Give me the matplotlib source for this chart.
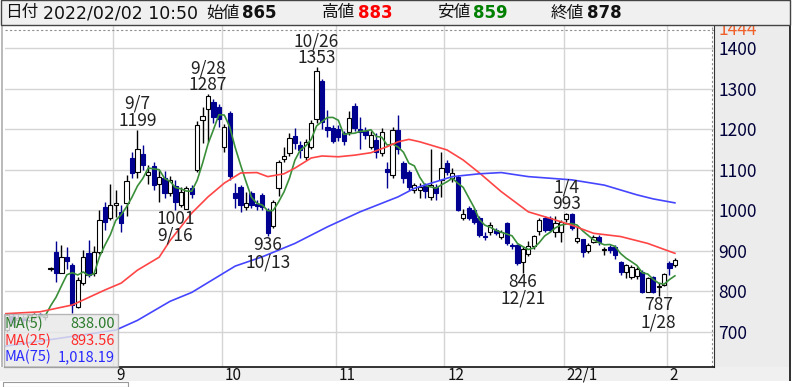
import matplotlib
matplotlib.use('Agg')
import matplotlib.pyplot as plt
from matplotlib.patches import Rectangle
import numpy as np
import pandas as pd

plt.rcParams['font.family'] = ['Noto Sans CJK JP', 'DejaVu Sans']

# ---------------- data ----------------
aug_days = [2, 3, 4, 5, 6, 10, 11, 12, 13, 16, 17, 18, 19, 20, 23, 24, 25, 26, 27, 30, 31]
sep_days = [1, 2, 3, 6, 7, 8, 9, 10, 13, 14, 15, 16, 17, 21, 22, 24, 27, 28, 29, 30]
oct_days = [1, 4, 5, 6, 7, 8, 11, 12, 13, 14, 15, 18, 19, 20, 21, 22, 25, 26, 27, 28, 29]
nov_days = [1, 2, 4, 5, 8, 9, 10, 11, 12, 15, 16, 17, 18, 19, 22, 24, 25, 26, 29, 30]
dec_days = [1, 2, 3, 6, 7, 8, 9, 10, 13, 14, 15, 16, 17, 20, 21, 22, 23, 24, 27, 28, 29, 30]
jan_days = [4, 5, 6, 7, 11, 12, 13, 14, 17, 18, 19, 20, 21, 24, 25, 26, 27, 28, 31]
feb_days = [1, 2]
dates = ([f'2021-08-{d:02d}' for d in aug_days] + [f'2021-09-{d:02d}' for d in sep_days] +
         [f'2021-10-{d:02d}' for d in oct_days] + [f'2021-11-{d:02d}' for d in nov_days] +
         [f'2021-12-{d:02d}' for d in dec_days] + [f'2022-01-{d:02d}' for d in jan_days] +
         [f'2022-02-{d:02d}' for d in feb_days])

opens = [735, 705, 738, 728, 735, 730, 736, 744, 736,
         855, 898, 846, 885, 865, 762, 820, 895, 845, 898, 1007, 982,
         1013, 996, 1017, 1130, 1095, 1138, 1088, 1110, 1065, 1080, 1042, 1060, 1012, 1004, 1055, 1100, 1222, 1250, 1268, 1255,
         1155, 1240, 1042, 1058, 1009, 1042, 1016, 1037, 1000, 962, 1054, 1126, 1141, 1183, 1160, 1132, 1155, 1225, 1320, 1205, 1202,
         1200, 1190, 1194, 1258, 1200, 1195, 1157, 1173, 1141, 1102, 1087, 1198, 1116, 1095, 1050, 1050, 1060, 1033, 1058, 1075,
         1116, 1079, 1083, 980, 1005, 1000, 980, 936, 947, 951, 935, 969, 914, 914, 873, 893, 912, 948, 982, 980, 947, 945,
         978, 990, 925, 928, 900, 922, 935, 901, 910, 910, 873, 848, 836, 837, 848, 799, 836, 810, 815,
         869, 865]
highs = [748, 746, 744, 742, 740, 744, 746, 746, 744,
         860, 925, 914, 910, 870, 836, 902, 926, 912, 1000, 1020, 1066,
         1050, 1013, 1087, 1145, 1199, 1160, 1112, 1120, 1100, 1098, 1085, 1075, 1058, 1060, 1062, 1220, 1256, 1287, 1275, 1262,
         1212, 1245, 1068, 1062, 1045, 1048, 1025, 1042, 1005, 1025, 1125, 1155, 1190, 1203, 1170, 1175, 1222, 1353, 1325, 1248, 1210,
         1210, 1195, 1245, 1266, 1230, 1205, 1195, 1190, 1202, 1120, 1205, 1235, 1122, 1100, 1068, 1068, 1068, 1150, 1065, 1144,
         1124, 1105, 1088, 1004, 1010, 1005, 985, 945, 970, 955, 950, 972, 918, 916, 908, 925, 940, 980, 985, 985, 986, 975,
         993, 992, 959, 930, 920, 940, 938, 910, 915, 915, 875, 868, 865, 860, 852, 835, 838, 820, 846,
         875, 883]
lows = [728, 700, 715, 720, 722, 725, 730, 730, 728,
        850, 823, 844, 855, 745, 758, 815, 836, 838, 893, 951, 976,
        984, 947, 985, 1080, 1080, 1100, 1065, 1050, 1020, 1030, 1035, 1001, 1008, 1002, 1030, 1095, 1166, 1168, 1215, 1205,
        1145, 1075, 1005, 995, 1000, 1005, 1000, 1000, 936, 955, 1035, 1120, 1135, 1150, 1130, 1125, 1150, 1215, 1200, 1180, 1165,
        1170, 1160, 1185, 1195, 1150, 1175, 1150, 1128, 1135, 1055, 1080, 1140, 1068, 1050, 1042, 1030, 1030, 1025, 1025, 1033,
        1088, 1070, 998, 976, 975, 965, 935, 926, 940, 938, 930, 915, 905, 865, 846, 888, 905, 940, 945, 945, 935, 922,
        970, 950, 920, 884, 895, 918, 915, 889, 895, 880, 840, 832, 830, 830, 795, 797, 795, 787, 812,
        840, 859]
closes = [740, 742, 725, 735, 730, 741, 744, 738, 740,
          857, 846, 885, 875, 766, 828, 884, 840, 897, 975, 972, 1013,
          1017, 968, 1072, 1092, 1150, 1112, 1095, 1062, 1082, 1042, 1075, 1020, 1045, 1055, 1040, 1210, 1232, 1283, 1230, 1225,
          1205, 1085, 1030, 1013, 1019, 1013, 1010, 1009, 943, 1021, 1120, 1134, 1178, 1165, 1148, 1169, 1215, 1345, 1218, 1198, 1170,
          1180, 1170, 1228, 1203, 1192, 1185, 1186, 1145, 1194, 1094, 1198, 1150, 1080, 1058, 1062, 1058, 1048, 1062, 1042, 1104,
          1095, 1092, 1001, 990, 980, 972, 939, 934, 964, 944, 947, 918, 911, 869, 905, 912, 937, 976, 952, 950, 968, 970,
          990, 957, 931, 898, 914, 935, 922, 904, 902, 889, 848, 865, 860, 856, 799, 832, 799, 814, 842,
          857, 878]

# moving averages (25 and 75 day)
ma25_dates = ['2021-08-02', '2021-08-12', '2021-08-20', '2021-08-30', '2021-09-02', '2021-09-07', '2021-09-13',
              '2021-09-15', '2021-09-22', '2021-09-28', '2021-10-01', '2021-10-06', '2021-10-11', '2021-10-13',
              '2021-10-18', '2021-10-20', '2021-10-25', '2021-10-27', '2021-11-01', '2021-11-05', '2021-11-10',
              '2021-11-15', '2021-11-17', '2021-11-19', '2021-11-24', '2021-11-26', '2021-12-01', '2021-12-06',
              '2021-12-09', '2021-12-15', '2021-12-22', '2021-12-28', '2022-01-05', '2022-01-12', '2022-01-19',
              '2022-01-26', '2022-02-02']
ma25_vals = [744, 749, 766, 803, 820, 852, 884, 925, 993, 1033, 1067, 1092, 1093, 1083, 1090, 1104, 1129, 1134,
             1132, 1136, 1142, 1157, 1169, 1175, 1169, 1161, 1149, 1124, 1092, 1046, 996, 980, 963, 943, 935, 918, 893.56]
ma75_dates = ['2021-08-02', '2021-09-01', '2021-09-07', '2021-09-15', '2021-09-22', '2021-10-05', '2021-10-12',
              '2021-10-20', '2021-10-28', '2021-11-08', '2021-11-17', '2021-11-22', '2021-12-02', '2021-12-09',
              '2021-12-15', '2021-12-22', '2022-01-05', '2022-01-14', '2022-01-24', '2022-01-27', '2022-02-02']
ma75_vals = [663, 704, 728, 775, 797, 862, 885, 918, 959, 996, 1033, 1054, 1083, 1090, 1093, 1083, 1075, 1062,
             1038, 1028, 1018.19]

ma_labels = ['MA(5)', 'MA(25)', 'MA(75)']
ma_last = ['838.00', '893.56', '1,018.19']

month_starts = ['2021-09-01', '2021-10-01', '2021-11-01', '2021-12-01', '2022-01-04', '2022-02-01']
month_labels = ['9', '10', '11', '12', '22/1', '2']

ann_dates = ['2021-09-07', '2021-09-16', '2021-09-28', '2021-10-13', '2021-10-26', '2021-12-21', '2022-01-04', '2022-01-28']
ann_types = ['high', 'low', 'high', 'low', 'high', 'low', 'high', 'low']

period_high = 1444
header_time = '2022/02/02 10:50'
q_open, q_high, q_low, q_close = 865, 883, 859, 878

# ---------------- figure ----------------
W, H = 792, 387
fig = plt.figure(figsize=(W / 100, H / 100), dpi=100)
fig.patch.set_facecolor('white')

def fx(px):
    return px / W

def fy(py):
    return 1 - py / H

AX_L, AX_R, AX_T, AX_B = 5, 714, 26, 367
ax = fig.add_axes([fx(AX_L), fy(AX_B), (AX_R - AX_L) / W, (AX_B - AX_T) / H])
ax.set_facecolor('white')

n = len(dates)
xs = np.arange(n)
o = np.array(opens, float); h = np.array(highs, float)
l = np.array(lows, float); c = np.array(closes, float)
up = c >= o
idx = {d: i for i, d in enumerate(dates)}

DOWN = '#000090'
# gridlines
for v in range(700, 1500, 100):
    ax.axhline(v, color='#d4d4d4', lw=1.0, zorder=0)
for d in month_starts:
    ax.axvline(idx[d] - 0.5, color='#d4d4d4', lw=1.0, zorder=0)
ax.axhline(period_high, color='#909090', lw=0.8, ls=(0, (2, 2)), zorder=0)
ax.plot([0.9965, 0.9965], [0, 1], transform=ax.transAxes, color='#909090', lw=0.8, ls=(0, (2, 2)), zorder=0)

# wicks
ax.vlines(xs[up], l[up], h[up], color='black', lw=1.0, zorder=2)
ax.vlines(xs[~up], l[~up], h[~up], color=DOWN, lw=1.0, zorder=2)
# bodies
bw = 0.78
bot = np.minimum(o, c)
ht = np.maximum(np.abs(c - o), 1.2)
ax.bar(xs[up], ht[up], bottom=bot[up], width=bw, color='white', edgecolor='black', lw=0.8, zorder=3)
ax.bar(xs[~up], ht[~up], bottom=bot[~up], width=bw, color=DOWN, edgecolor=DOWN, lw=0.8, zorder=3)

# moving averages
ma5 = pd.Series(c).rolling(5).mean()
ax.plot(xs, ma5, color='#3a8f3a', lw=1.2, zorder=4)
ax.plot([idx[d] for d in ma25_dates], ma25_vals, color='#ff4545', lw=1.2, zorder=4)
ax.plot([idx[d] for d in ma75_dates], ma75_vals, color='#4545ff', lw=1.2, zorder=4)

# high/low annotations (one two-line text each)
AFS = 12.5
LSP = 0.93
for d, t in zip(ann_dates, ann_types):
    i = idx[d]
    mm, dd = int(d[5:7]), int(d[8:10])
    lab = f'{mm}/{dd}'
    if t == 'high':
        v = highs[i]
        ax.annotate(f'{lab}\n{v}', xy=(i, v), xytext=(0, 4), textcoords='offset pixels', ha='center',
                    va='baseline', multialignment='center', linespacing=LSP,
                    fontsize=AFS, color='#222222', zorder=6)
    else:
        v = lows[i]
        ax.annotate(f'{v}\n{lab}', xy=(i, v), xytext=(0, 0), textcoords='offset pixels', ha='center',
                    va='top', multialignment='center', linespacing=LSP,
                    fontsize=AFS, color='#222222', zorder=6)

# axis limits
ax.set_xlim(0.6, 131.2)
ax.set_ylim(612.8, 1455)
ax.set_xticks([])
ax.yaxis.tick_right()
ax.set_yticks(range(700, 1500, 100))
ax.set_yticklabels([str(v) for v in range(700, 1500, 100)])
ax.tick_params(axis='y', length=0, pad=3, labelsize=12.5, labelcolor='#00003a')
for s in ['top', 'left']:
    ax.spines[s].set_visible(False)
ax.spines['right'].set_color('#333333')
ax.spines['bottom'].set_color('#111111')
ax.spines['bottom'].set_linewidth(1.2)

ax.annotate(str(period_high), xy=(1, period_high), xycoords=('axes fraction', 'data'), xytext=(4, 0),
            textcoords='offset pixels', ha='left', va='center', fontsize=12.5, color='#f0602a',
            annotation_clip=False)

# month labels
for d, lab in zip(month_starts, month_labels):
    ax.annotate(lab, xy=(idx[d] - 0.5, 0), xycoords=('data', 'axes fraction'), xytext=(3, -8),
                textcoords='offset pixels', ha='left', va='center', fontsize=11, color='#111111',
                annotation_clip=False)

# ---------------- frame elements ----------------
def prect(x0, y0, x1, y1, **kw):
    r = Rectangle((fx(x0), fy(y1)), (x1 - x0) / W, (y1 - y0) / H, transform=fig.transFigure, **kw)
    fig.add_artist(r)
    return r

# right panel & bottom strip backgrounds (under axes)
prect(714, 26, 790, 367, facecolor='#ececec', edgecolor='none', zorder=-1)
prect(0, 367, 790, 381, facecolor='#f0f0f0', edgecolor='none', zorder=-1)
prect(789, 0, 791, 381, facecolor='#333333', edgecolor='none', zorder=1)
prect(3, 382, 128, 387, facecolor='white', edgecolor='#999999', lw=0.8, zorder=1)
prect(1, 26, 3, 367, facecolor='#bbbbbb', edgecolor='none', zorder=1)

# header
prect(0.5, 0.5, 790, 25, facecolor='#f0f0f0', edgecolor='#444444', lw=1.0, zorder=1)
hy = fy(13)
fig.text(fx(5), hy, '日付', fontsize=12, va='center', ha='left', color='#111111', zorder=3)
fig.text(fx(43), hy, header_time, fontsize=12.5, va='center', ha='left', color='#111111', zorder=3,
         family=['DejaVu Sans'])
items = [('始値', q_open, '#111111', 206), ('高値', q_high, '#ff0000', 322),
         ('安値', q_low, '#008000', 437), ('終値', q_close, '#111111', 551)]
for lab, val, colr, x0 in items:
    fig.text(fx(x0), hy, lab, fontsize=12, va='center', ha='left', color='#111111', zorder=3)
    fig.text(fx(x0 + 36), hy, str(val), fontsize=12, va='center', ha='left', color=colr,
             fontweight='bold', zorder=3, family=['DejaVu Sans'])

# legend box
prect(3.5, 313.5, 117.5, 366.5, facecolor='#e8e8e8', edgecolor='#a8a8a8', lw=1.0, alpha=0.82, zorder=2)
ma_colors = ['#2b7a2b', '#ff2a2a', '#2a2aff']
for k, (lab, val, colr) in enumerate(zip(ma_labels, ma_last, ma_colors)):
    yy = fy(324 + k * 16.7)
    fig.text(fx(5), yy, lab, fontsize=10.5, va='center', ha='left', color=colr, zorder=3)
    fig.text(fx(115), yy, val, fontsize=10.5, va='center', ha='right', color=colr, zorder=3)

fig.savefig('out.png', dpi=100)
